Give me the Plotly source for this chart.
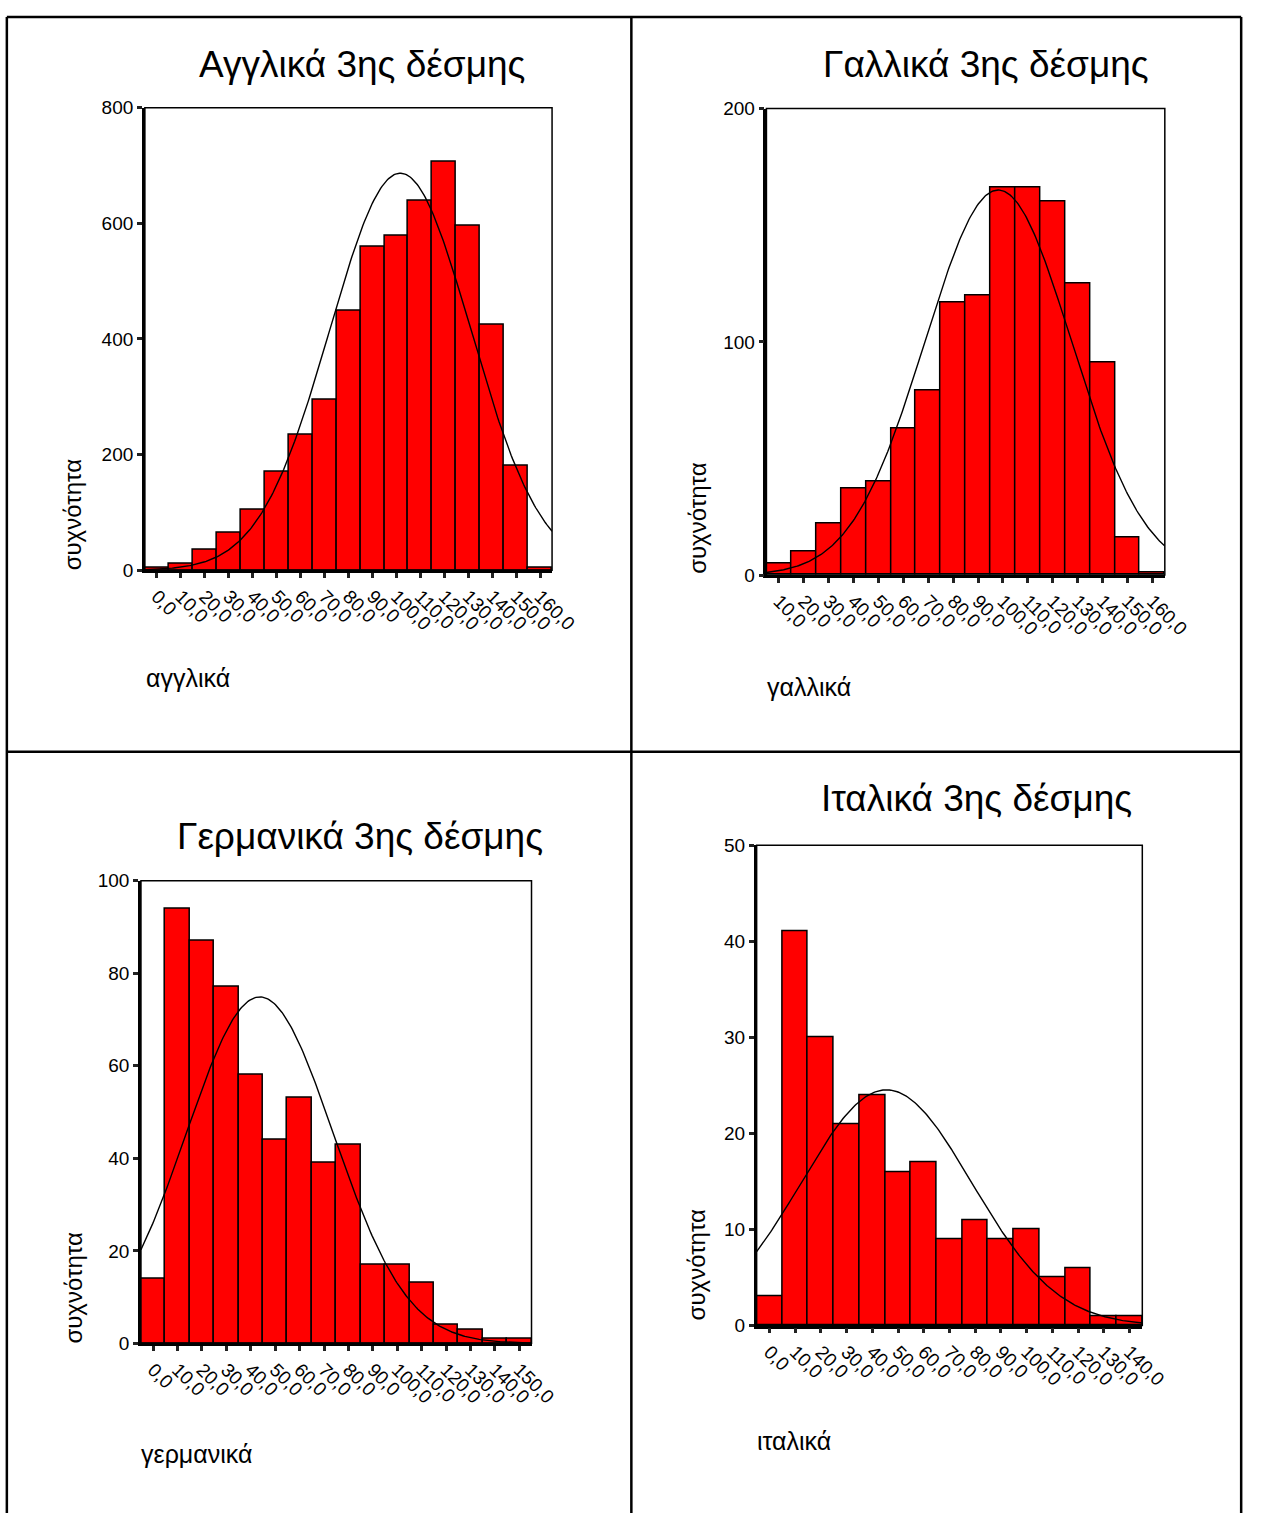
import numpy as np
import plotly.graph_objects as go

W, H = 1276, 1524

# ---- data: bin centres and frequencies (bin width 10) ----
eng_centers = [0, 10, 20, 30, 40, 50, 60, 70, 80, 90, 100, 110, 120, 130, 140, 150, 160]
eng_counts = [4, 11, 35, 65, 105, 171, 235, 295, 449, 559, 579, 639, 706, 596, 425, 181, 4]

fra_centers = [10, 20, 30, 40, 50, 60, 70, 80, 90, 100, 110, 120, 130, 140, 150, 160]
fra_counts = [5, 10, 22, 37, 40, 63, 79, 117, 120, 166, 166, 160, 125, 91, 16, 1]

ger_centers = [0, 10, 20, 30, 40, 50, 60, 70, 80, 90, 100, 110, 120, 130, 140, 150]
ger_counts = [14, 94, 87, 77, 58, 44, 53, 39, 43, 17, 17, 13, 4, 3, 1, 1]

ita_centers = [0, 10, 20, 30, 40, 50, 60, 70, 80, 90, 100, 110, 120, 130, 140]
ita_counts = [3, 41, 30, 21, 24, 16, 17, 9, 11, 9, 10, 5, 6, 1, 1]

BIN_W = 10
FONT = "Liberation Sans, Arial, sans-serif"


def px_x(x):
    return x / W


def px_y(y):
    return 1 - y / H


panels = [
    dict(title="Αγγλικά 3ης δέσμης", xlabel="αγγλικά", centers=eng_centers, counts=eng_counts,
         yrange=[0, 800], ytick=[0, 200, 400, 600, 800], box=(148, 99, 564, 568),
         title_pos=(370, 55), ylab_pos=(75, 511), xlab_pos=(147, 677)),
    dict(title="Γαλλικά 3ης δέσμης", xlabel="γαλλικά", centers=fra_centers, counts=fra_counts,
         yrange=[0, 200], ytick=[0, 100, 200], box=(783, 100, 1190, 573),
         title_pos=(1007, 55), ylab_pos=(713, 515), xlab_pos=(782, 686)),
    dict(title="Γερμανικά 3ης δέσμης", xlabel="γερμανικά", centers=ger_centers, counts=ger_counts,
         yrange=[0, 100], ytick=[0, 20, 40, 60, 80, 100], box=(144, 883, 543, 1352),
         title_pos=(368, 838), ylab_pos=(75, 1295), xlab_pos=(142, 1464)),
    dict(title="Ιταλικά 3ης δέσμης", xlabel="ιταλικά", centers=ita_centers, counts=ita_counts,
         yrange=[0, 50], ytick=[0, 10, 20, 30, 40, 50], box=(773, 847, 1167, 1334),
         title_pos=(998, 800), ylab_pos=(712, 1272), xlab_pos=(771, 1451)),
]

fig = go.Figure()
annotations = []
shapes = []

for i, p in enumerate(panels, start=1):
    xa = "x" if i == 1 else f"x{i}"
    ya = "y" if i == 1 else f"y{i}"
    c = np.array(p["centers"], dtype=float)
    n = np.array(p["counts"], dtype=float)
    x0r, x1r = c[0] - BIN_W / 2, c[-1] + BIN_W / 2

    # histogram bars
    fig.add_trace(go.Bar(
        x=c, y=n, width=BIN_W, xaxis=xa, yaxis=ya,
        marker=dict(color="#FF0000", line=dict(color="black", width=1.5)),
        showlegend=False, hoverinfo="x+y",
    ))

    # fitted normal curve from the grouped frequencies
    total = n.sum()
    mean = (c * n).sum() / total
    sd = np.sqrt(((c - mean) ** 2 * n).sum() / (total - 1))
    gx = np.linspace(x0r, x1r, 300)
    gy = total * BIN_W / (sd * np.sqrt(2 * np.pi)) * np.exp(-0.5 * ((gx - mean) / sd) ** 2)
    fig.add_trace(go.Scatter(
        x=gx, y=gy, mode="lines", xaxis=xa, yaxis=ya,
        line=dict(color="black", width=1.4), showlegend=False, hoverinfo="skip",
    ))

    bx0, by0, bx1, by1 = p["box"]
    ticktext = [f"{v:.1f}".replace(".", ",") for v in p["centers"]]
    xkey = "xaxis" if i == 1 else f"xaxis{i}"
    ykey = "yaxis" if i == 1 else f"yaxis{i}"
    fig.update_layout(**{
        xkey: dict(
            domain=[px_x(bx0), px_x(bx1)], anchor=ya, range=[x0r, x1r],
            tickmode="array", tickvals=p["centers"], ticktext=ticktext, tickangle=45,
            ticks="outside", ticklen=5, tickwidth=3, tickcolor="#222",
            showline=True, linecolor="black", linewidth=2.5, showgrid=False, zeroline=False,
            tickfont=dict(family=FONT, size=19, color="black"), fixedrange=True,
        ),
        ykey: dict(
            domain=[px_y(by1), px_y(by0)], anchor=xa, range=p["yrange"],
            tickmode="array", tickvals=p["ytick"],
            ticks="outside", ticklen=5, tickwidth=3, tickcolor="#222",
            showline=True, linecolor="black", linewidth=2.5, showgrid=False, zeroline=False,
            tickfont=dict(family=FONT, size=19, color="black"), fixedrange=True,
        ),
    })

    # plot frame
    shapes.append(dict(type="rect", xref=f"{xa} domain", yref=f"{ya} domain",
                       x0=0, x1=1, y0=0, y1=1, line=dict(color="black", width=1.5),
                       layer="above"))

    tx, ty = p["title_pos"]
    annotations.append(dict(text=p["title"], x=px_x(tx), y=px_y(ty), xref="paper", yref="paper",
                            showarrow=False, xanchor="center", yanchor="middle",
                            font=dict(family=FONT, size=37, color="black")))
    lx, ly = p["ylab_pos"]
    annotations.append(dict(text="συχνότητα", x=px_x(lx), y=px_y(ly), xref="paper", yref="paper",
                            showarrow=False, textangle=-90, xanchor="center", yanchor="middle",
                            font=dict(family=FONT, size=24, color="black")))
    ax, ay = p["xlab_pos"]
    annotations.append(dict(text=p["xlabel"], x=px_x(ax), y=px_y(ay), xref="paper", yref="paper",
                            showarrow=False, xanchor="left", yanchor="middle",
                            font=dict(family=FONT, size=25, color="black")))

# table grid around the four charts
grid = dict(color="black", width=2.5)
for (x0, y0, x1, y1) in [
    (7, 7, 1268, 7), (7, 7, 7, H), (1268, 7, 1268, H),
    (645, 7, 645, H), (7, 752, 1268, 752),
]:
    shapes.append(dict(type="line", xref="paper", yref="paper",
                       x0=px_x(x0), y0=px_y(y0), x1=px_x(x1), y1=px_y(y1), line=grid))

fig.update_layout(
    width=W, height=H, margin=dict(l=0, r=0, t=0, b=0),
    paper_bgcolor="white", plot_bgcolor="white",
    bargap=0, annotations=annotations, shapes=shapes,
    font=dict(family=FONT, color="black"),
)

fig.write_html("out.html", config={"displayModeBar": False})
